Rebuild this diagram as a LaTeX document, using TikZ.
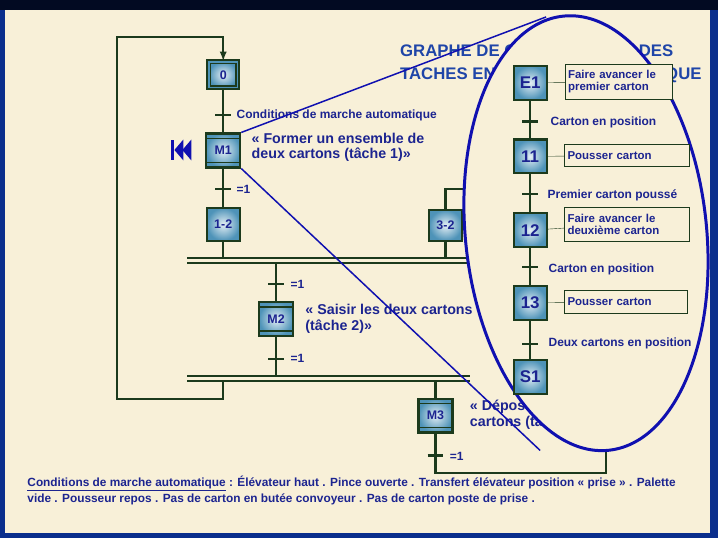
\documentclass[tikz,border=0pt]{standalone}
\usepackage{fontspec}
\setmainfont{Liberation Sans}
\usetikzlibrary{positioning}
\definecolor{navy}{HTML}{0A2E8C}
\definecolor{deepnavy}{HTML}{020A22}
\definecolor{panel}{HTML}{F8F0D8}
\definecolor{dkgreen}{HTML}{1C3A1C}
\definecolor{stepblue}{HTML}{4E93B8}
\definecolor{txtblue}{HTML}{1C2490}
\definecolor{titleblue}{HTML}{1F45A8}
\definecolor{ovalblue}{HTML}{1010B0}
\begin{document}
\begin{tikzpicture}[x=1pt,y=-1pt,font=\bfseries]
    \tikzstyle{gstep}=[draw=dkgreen,line width=2.2pt,inner color=white!85!stepblue,outer color=stepblue,minimum width=33pt,minimum height=34pt,inner sep=1pt,font=\bfseries\fontsize{17}{17}\selectfont,text=txtblue];
    \tikzstyle{small}=[font=\bfseries\fontsize{12.5}{13}\selectfont];
    \tikzstyle{init}=[gstep,small,double=stepblue,double distance=1.6pt,line width=1.6pt,minimum width=29pt,minimum height=26pt];
    \tikzstyle{macro}=[gstep,small,minimum width=34pt,minimum height=34pt,
      path picture={\draw[dkgreen,line width=1.5pt] ([yshift=-5pt]path picture bounding box.north west) -- ([yshift=-5pt]path picture bounding box.north east);
                    \draw[dkgreen,line width=1.5pt] ([yshift=5pt]path picture bounding box.south west) -- ([yshift=5pt]path picture bounding box.south east);}];
    \tikzstyle{act}=[draw=dkgreen,thin,fill=panel,align=left,text=txtblue,font=\bfseries\fontsize{11.5}{12.5}\selectfont,inner sep=3pt];
    \tikzstyle{link}=[draw=dkgreen,line width=2.2pt];
    \tikzstyle{lbl}=[anchor=west,text=txtblue,font=\bfseries\fontsize{12}{13}\selectfont];
    \tikzstyle{cmt}=[anchor=west,text=txtblue,align=left,font=\bfseries\fontsize{14.3}{15.5}\selectfont];
\fill[navy] (0,0) rectangle (720,540);
\fill[deepnavy] (0,0) rectangle (720,10);
\fill[panel] (5,10) rectangle (712,535);
% left graph
\node[init] (s0) at (224,75) {0};
\node[macro] (m1) at (224,151) {M1};
\node[gstep,small,minimum height=33pt] (s12) at (224,225) {1-2};
\node[gstep,small,minimum height=31pt] (s32) at (447,226) {3-2};
\node[macro] (m2) at (277,320) {M2};
\node[macro] (m3) at (437,417) {M3};
\coordinate (b1) at (224,259);
\coordinate (b1r) at (447,259);
\coordinate (b1d) at (277,264);
\coordinate (b2) at (277,377);
\coordinate (b2l) at (224,382);
\coordinate (b2d) at (437,382);
\coordinate (e3) at (608,445);
\coordinate (e32) at (470,190);
\draw[link] (s0) -- (m1);
\draw[link] (m1) -- (s12);
\draw[link] (s12) -- (b1);
\draw[link] (s32) -- (b1r);
\draw[link] (s32.north) |- (e32);
\draw[link] (b1d) -- (m2);
\draw[link] (m2) -- (b2);
\draw[link] (b2d) -- (m3);
\draw[link] (m3) -- (437,475) -| (e3);
\draw[link,-latex] (b2l) -- (224,400) -| (117,37) -| (s0.north);
\foreach \y in {259,264,377,382} \draw[link,line width=2pt] (188,\y) -- (472,\y);
\foreach \x/\y in {224/115,224/190,277/285,277/360,437/457} \draw[link] (\x-8,\y) -- (\x+8,\y);
\node[lbl] (c0) at (234,116) {Conditions de marche automatique};
\node[lbl] (c1) at (234,190) {=1};
\node[lbl] (c2) at (288,285) {=1};
\node[lbl] (c3) at (288,360) {=1};
\node[lbl] (c4) at (448,458) {=1};
\node[cmt] (tm1) at (249,148) {« Former un ensemble de\\deux cartons (tâche 1)»};
\node[cmt] (tm2) at (303,320) {« Saisir les deux cartons\\(tâche 2)»};
\node[cmt] (tm3) at (468,416) {« Déposer les deux\\cartons (tâche 3)»};
\fill[ovalblue] (172,140) rectangle (175,161);
\fill[ovalblue] (175,150.5) -- (184,140) -- (184,161) -- cycle;
\fill[ovalblue] (183,150.5) -- (192,140) -- (192,161) -- cycle;
% title
\node[anchor=west,align=left,text=titleblue,font=\bfseries\fontsize{16.8}{23}\selectfont] (title) at (398,64) {GRAPHE DE COORDINATION DES\\TACHES EN MARCHE AUTOMATIQUE};
% oval
\draw[ovalblue,line width=3pt,fill=panel,rotate around={6:(588,234)}] (588,234) ellipse [x radius=121, y radius=219];
\coordinate (o1) at (548,17);
\coordinate (o2) at (542,452);
\draw[ovalblue,line width=1.5pt] (m1.north east) -- (o1);
\draw[ovalblue,line width=1.5pt] (m1.south east) -- (o2);
% right graph
\node[gstep] (e1) at (532,83) {E1};
\node[gstep] (s11) at (532,157) {11};
\node[gstep] (s120) at (532,231) {12};
\node[gstep] (s13) at (532,304) {13};
\node[gstep] (s1) at (532,378) {S1};
\draw[link] (e1) -- (s11);
\draw[link] (s11) -- (s120);
\draw[link] (s120) -- (s13);
\draw[link] (s13) -- (s1);
\foreach \y in {122,195,268,345} \draw[link] (524,\y) -- (540,\y);
\node[lbl] (c5) at (549,123) {Carton en position};
\node[lbl] (c6) at (546,196) {Premier carton poussé};
\node[lbl] (c7) at (547,270) {Carton en position};
\node[lbl] (c8) at (547,345) {Deux cartons en position};
\node[act,text width=102pt,minimum height=36pt] (a1) at (621,82) {Faire avancer le\\premier carton};
\node[act,text width=119pt,minimum height=22pt] (a2) at (629,156) {Pousser carton};
\node[act,text width=119pt,minimum height=35pt] (a3) at (629,225) {Faire avancer le\\deuxième carton};
\node[act,text width=117pt,minimum height=23pt] (a4) at (628,303) {Pousser carton};
\draw[dkgreen,thin] (e1) -- (a1);
\draw[dkgreen,thin] (s11) -- (a2);
\draw[dkgreen,thin] (s120) -- (a3);
\draw[dkgreen,thin] (s13) -- (a4);
% conditions
\node[anchor=west,align=left,text=txtblue,font=\bfseries\fontsize{11.9}{16}\selectfont] (cond) at (24,492) {\underline{Conditions de marche automatique} : Élévateur haut . Pince ouverte . Transfert élévateur position « prise » . Palette\\vide . Pousseur repos . Pas de carton en butée convoyeur . Pas de carton poste de prise .};
\end{tikzpicture}
\end{document}
